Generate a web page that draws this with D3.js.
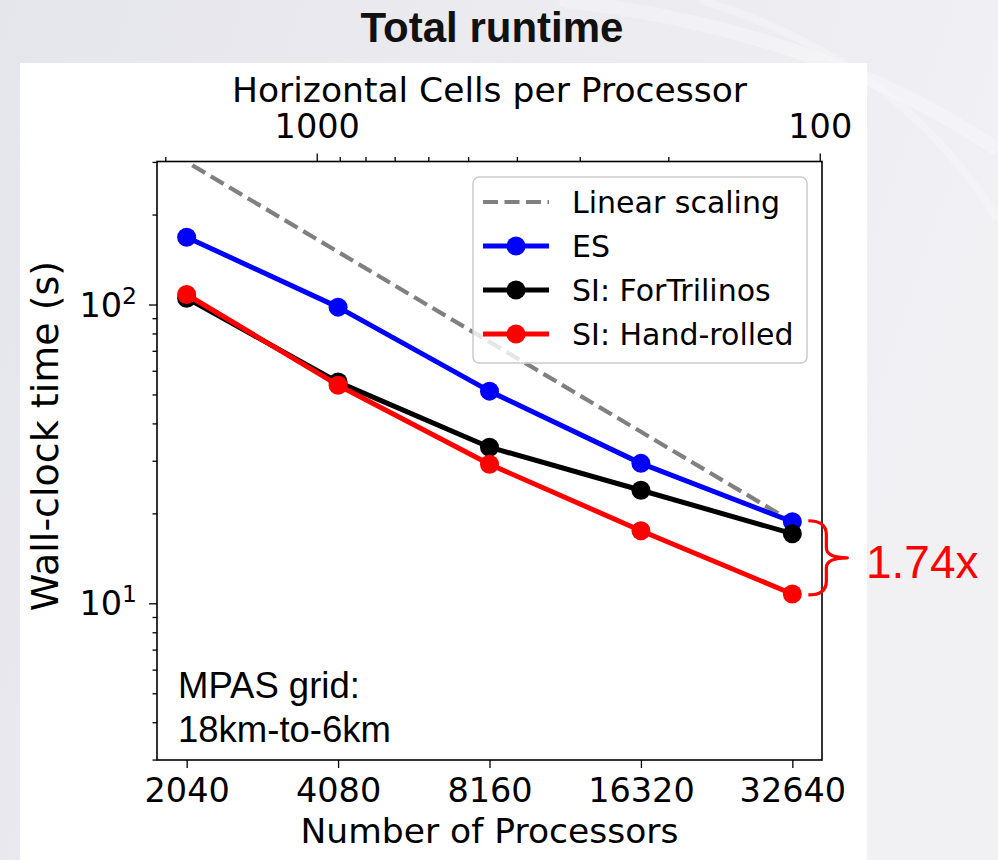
<!DOCTYPE html>
<html>
<head>
<meta charset="utf-8">
<script src="https://cdn.jsdelivr.net/npm/d3@7"></script>
<style>
  html, body { margin: 0; padding: 0; background: #ececf0; }
  svg { display: block; }
</style>
</head>
<body>
<div id="chart"></div>
<script>
// ---------- data ----------
const processors      = [2040, 4080, 8160, 16320, 32640];
const esTime          = [168, 98, 51.3, 29.4, 18.75];
const siForTrilinos   = [105, 55, 33.3, 23.9, 17.1];
const siHandRolled    = [108, 53.7, 29.2, 17.5, 10.75];
const linearScaling   = [300, 150, 75, 37.5, 18.75];
const seriesNames     = ["Linear scaling", "ES", "SI: ForTrilinos", "SI: Hand-rolled"];
const totalCells      = 3.7e6;          // horizontal cells in the mesh
const cellMajorTicks  = [1000, 100];
const cellMinorTicks  = [2000, 900, 800, 700, 600, 500, 400, 300, 200];
const yMajorTicks     = [10, 100];
const yMinorTicks     = [3, 4, 5, 6, 7, 8, 9, 20, 30, 40, 50, 60, 70, 80, 90, 200, 300];
const speedupLabel    = "1.74x";
const titleText       = "Total runtime";
const gridNote        = ["MPAS grid:", "18km-to-6km"];

// ---------- layout ----------
const W = 998, H = 860;
const plot = {left: 157, right: 822, top: 161.5, bottom: 760};
const tickFont = "DejaVu Sans";
const tickSize = 33.5;

const svg = d3.select("#chart").append("svg").attr("width", W).attr("height", H);
const defs = svg.append("defs");

// background gradient
const bg = defs.append("linearGradient").attr("id", "bg").attr("x1", 0).attr("y1", 0).attr("x2", 1).attr("y2", 0.3);
bg.append("stop").attr("offset", "0%").attr("stop-color", "#e5e5ec");
bg.append("stop").attr("offset", "100%").attr("stop-color", "#f1f1f4");
svg.append("rect").attr("width", W).attr("height", H).attr("fill", "url(#bg)");
// faint swooshes
svg.append("path").attr("d", "M560,0 Q820,30 998,150").attr("fill", "none").attr("stroke", "#fafafc").attr("stroke-width", 14).attr("opacity", 0.4);
svg.append("path").attr("d", "M700,0 Q900,60 998,220").attr("fill", "none").attr("stroke", "#fafafc").attr("stroke-width", 8).attr("opacity", 0.35);

// white figure panel
svg.append("rect").attr("x", 20).attr("y", 63).attr("width", 847).attr("height", H - 63).attr("fill", "#ffffff");

// title
svg.append("text").attr("x", 492).attr("y", 42).attr("text-anchor", "middle")
  .attr("font-family", "Liberation Sans, Arial, sans-serif").attr("font-weight", "bold")
  .attr("font-size", 42).attr("fill", "#111").text(titleText);

// ---------- scales ----------
const x = d3.scaleLog().domain([1781, 37385]).range([plot.left, plot.right]);
const y = d3.scaleLog().domain([2.99, 301]).range([plot.bottom, plot.top]);
const xTop = d3.scaleLog().domain([totalCells / 1781, totalCells / 37385]).range([plot.left, plot.right]);

// clip
defs.append("clipPath").attr("id", "clip").append("rect")
  .attr("x", plot.left).attr("y", plot.top).attr("width", plot.right - plot.left).attr("height", plot.bottom - plot.top);

const g = svg.append("g");

// ---------- axes ----------
function styleAxis(sel) {
  sel.selectAll(".domain").remove();
  sel.selectAll("line").attr("stroke", "#000").attr("stroke-width", 1.3);
  sel.selectAll("text").attr("font-family", tickFont).attr("font-size", tickSize).attr("fill", "#000");
}

// bottom
const bottomAxis = g.append("g").attr("transform", `translate(0,${plot.bottom})`)
  .call(d3.axisBottom(x).tickValues(processors).tickFormat(d3.format("d")).tickSizeInner(8).tickSizeOuter(0).tickPadding(6));
styleAxis(bottomAxis);
bottomAxis.selectAll("text").attr("dy", null).attr("y", 41.5);

// top major
const topAxis = g.append("g").attr("transform", `translate(0,${plot.top})`)
  .call(d3.axisTop(xTop).tickValues(cellMajorTicks).tickFormat(d3.format("d")).tickSizeInner(8).tickSizeOuter(0).tickPadding(6));
styleAxis(topAxis);
topAxis.selectAll("text").attr("y", -23.5);
// top minor
const topMinor = g.append("g").attr("transform", `translate(0,${plot.top})`)
  .call(d3.axisTop(xTop).tickValues(cellMinorTicks).tickFormat("").tickSizeInner(4.5).tickSizeOuter(0));
styleAxis(topMinor);

// left major
const leftAxis = g.append("g").attr("transform", `translate(${plot.left},0)`)
  .call(d3.axisLeft(y).tickValues(yMajorTicks).tickFormat("").tickSizeInner(8).tickSizeOuter(0));
styleAxis(leftAxis);
leftAxis.selectAll(".tick").append("text")
  .attr("x", -20).attr("y", 11.5).attr("text-anchor", "end")
  .attr("font-family", tickFont).attr("font-size", tickSize).attr("fill", "#000")
  .each(function(d) {
    const t = d3.select(this);
    t.append("tspan").text("10");
    t.append("tspan").attr("font-size", tickSize * 0.7).attr("dy", -13).text(Math.round(Math.log10(d)));
  });
// left minor
const leftMinor = g.append("g").attr("transform", `translate(${plot.left},0)`)
  .call(d3.axisLeft(y).tickValues(yMinorTicks).tickFormat("").tickSizeInner(4.5).tickSizeOuter(0));
styleAxis(leftMinor);

// frame
g.append("rect").attr("x", plot.left).attr("y", plot.top)
  .attr("width", plot.right - plot.left).attr("height", plot.bottom - plot.top)
  .attr("fill", "none").attr("stroke", "#000").attr("stroke-width", 1.6);

// axis labels
g.append("text").attr("x", (plot.left + plot.right) / 2).attr("y", 843).attr("text-anchor", "middle")
  .attr("font-family", tickFont).attr("font-size", 34.5).text("Number of Processors");
g.append("text").attr("x", (plot.left + plot.right) / 2).attr("y", 102).attr("text-anchor", "middle")
  .attr("font-family", tickFont).attr("font-size", 34.5).text("Horizontal Cells per Processor");
g.append("text").attr("transform", "translate(58,436) rotate(-90)").attr("text-anchor", "middle")
  .attr("font-family", tickFont).attr("font-size", 38).text("Wall-clock time (s)");

// ---------- series ----------
const line = d3.line().x(d => x(d[0])).y(d => y(d[1]));
const data = (vals) => processors.map((p, i) => [p, vals[i]]);
const marks = g.append("g").attr("clip-path", "url(#clip)");

marks.append("path").datum(data(linearScaling)).attr("d", line)
  .attr("fill", "none").attr("stroke", "#808080").attr("stroke-width", 4.2)
  .attr("stroke-dasharray", "15,6.5").attr("stroke-dashoffset", 15);

const series = [
  {vals: esTime, color: "#0000ff"},
  {vals: siForTrilinos, color: "#000000"},
  {vals: siHandRolled, color: "#ff0000"}
];
series.forEach(s => {
  marks.append("path").datum(data(s.vals)).attr("d", line)
    .attr("fill", "none").attr("stroke", s.color).attr("stroke-width", 5).attr("stroke-linejoin", "round");
  marks.selectAll(null).data(data(s.vals)).enter().append("circle")
    .attr("cx", d => x(d[0])).attr("cy", d => y(d[1])).attr("r", 9.5).attr("fill", s.color);
});

// ---------- legend ----------
const lg = g.append("g");
lg.append("rect").attr("x", 473).attr("y", 177).attr("width", 334).attr("height", 186).attr("rx", 6)
  .attr("fill", "#fff").attr("fill-opacity", 0.8).attr("stroke", "#cccccc").attr("stroke-width", 1.5);
const legendItems = [
  {name: seriesNames[0], color: "#808080", dashed: true},
  {name: seriesNames[1], color: "#0000ff"},
  {name: seriesNames[2], color: "#000000"},
  {name: seriesNames[3], color: "#ff0000"}
];
legendItems.forEach((it, i) => {
  const yy = 202 + i * 44;
  const l = lg.append("line").attr("x1", 483).attr("x2", 549).attr("y1", yy).attr("y2", yy)
    .attr("stroke", it.color).attr("stroke-width", it.dashed ? 4.2 : 5);
  if (it.dashed) l.attr("stroke-dasharray", "15,6.5");
  else lg.append("circle").attr("cx", 516).attr("cy", yy).attr("r", 9.5).attr("fill", it.color);
  lg.append("text").attr("x", 572).attr("y", yy + 11).attr("font-family", tickFont)
    .attr("font-size", 30).attr("fill", "#000").text(it.name);
});

// ---------- annotations ----------
const na = g.append("g").attr("font-family", "Liberation Sans, Arial, sans-serif").attr("font-size", 36.5).attr("fill", "#000");
na.append("text").attr("x", 178).attr("y", 698).text(gridNote[0]);
na.append("text").attr("x", 178).attr("y", 742).text(gridNote[1]);

// brace between ES and Hand-rolled at the last point
const bx = x(processors[4]) + 16;
const yTopB = y(esTime[4]) - 1, yBotB = y(siHandRolled[4]) + 1;
const yMid = (yTopB + yBotB) / 2;
const cx = bx + 18;
const bracePath = `M${bx},${yTopB} Q${cx},${yTopB} ${cx},${yTopB + 14} L${cx},${yMid - 10} Q${cx},${yMid} ${cx + 21},${yMid} Q${cx},${yMid} ${cx},${yMid + 10} L${cx},${yBotB - 14} Q${cx},${yBotB} ${bx},${yBotB}`;
svg.append("path").attr("d", bracePath).attr("fill", "none").attr("stroke", "#ff0000").attr("stroke-width", 3.2).attr("stroke-linejoin", "round");
svg.append("text").attr("x", 866).attr("y", 578).attr("font-family", "Liberation Sans, Arial, sans-serif")
  .attr("font-size", 46).attr("fill", "#ff0000").text(speedupLabel);
</script>
</body>
</html>
